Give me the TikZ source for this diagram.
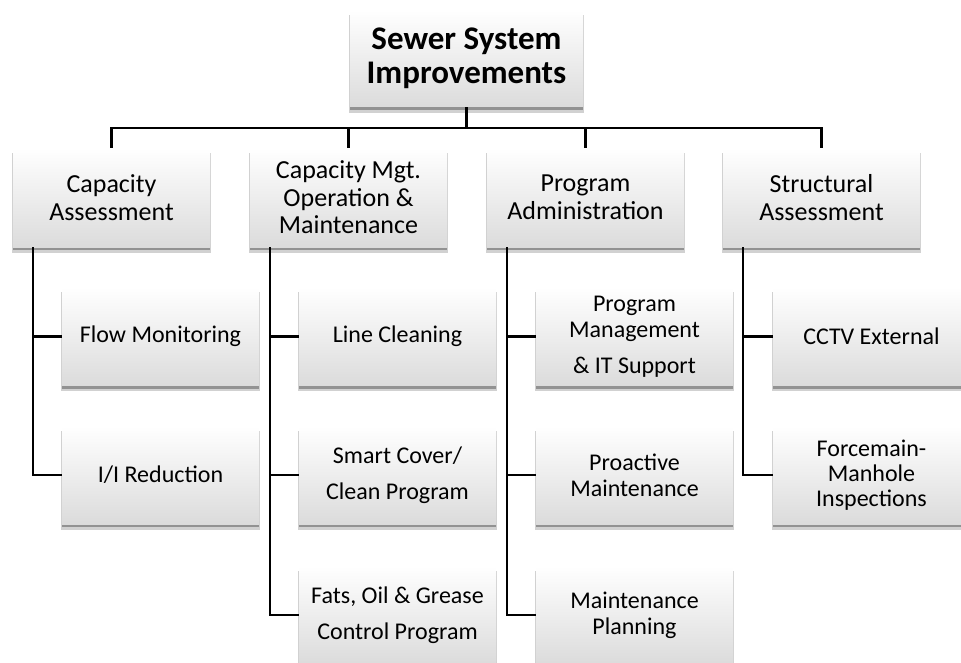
\documentclass[tikz,border=0pt]{standalone}
\usepackage{fontspec}
\setmainfont{Carlito}
\usetikzlibrary{shadows}
\begin{document}
\begin{tikzpicture}[x=1pt,y=-1pt,
  boxbase/.style={rectangle, inner sep=0pt, align=center, text=black,
    top color=white, middle color=white, bottom color=black!14,
    drop shadow={shadow xshift=0pt, shadow yshift=-5pt, opacity=0.18, fill=black, shadow scale=1.01},
    drop shadow={shadow xshift=0pt, shadow yshift=-3pt, opacity=0.3, fill=black}},
  rootbox/.style={boxbase, minimum width=233pt, minimum height=97pt, font=\fontsize{33}{34}\selectfont\bfseries},
  topbox/.style={boxbase, minimum width=197pt, minimum height=99pt, font=\fontsize{26}{27.5}\selectfont},
  leafbox/.style={boxbase, minimum width=197pt, minimum height=98pt, font=\fontsize{24}{26}\selectfont},
  conn/.style={line width=2.6pt, black}
]
\useasboundingbox (0,0) rectangle (961,663);

\node[rootbox] (root) at (466.5,58.5) {Sewer System\\Improvements};

\node[topbox] (ta) at (111.5,197.5) {Capacity\\Assessment};
\node[topbox] (tb) at (348.5,197.5) {Capacity Mgt.\\Operation \&\\Maintenance};
\node[topbox] (tc) at (585.5,197.5) {Program\\Administration};
\node[topbox] (td) at (821.5,197.5) {Structural\\Assessment};

\node[leafbox] (a1) at (160.5,336.5) {Flow Monitoring};
\node[leafbox] (a2) at (160.5,475) {I/I Reduction};

\node[leafbox] (b1) at (397.5,336.5) {Line Cleaning};
\node[leafbox] (b2) at (397.5,475) {Smart Cover/\\[10pt]Clean Program};
\node[leafbox] (b3) at (397.5,615) {Fats, Oil \& Grease\\[10pt]Control Program};

\node[leafbox] (c1) at (634.5,336.5) {Program\\Management\\[10pt]\& IT Support};
\node[leafbox] (c2) at (634.5,475) {Proactive\\Maintenance};
\node[leafbox] (c3) at (634.5,615) {Maintenance\\Planning};

\node[leafbox] (d1) at (871.5,336.5) {CCTV External};
\node[leafbox, font=\fontsize{24}{25}\selectfont] (d2) at (871.5,475) {Forcemain-\\Manhole\\Inspections};

\coordinate (bus) at (0,128);
\draw[conn] (root.south) -- (root.south |- bus);
\draw[conn, line join=miter] (ta.north) -- (ta.north |- bus) -- (td.north |- bus) -- (td.north);
\draw[conn] (tb.north) -- (tb.north |- bus);
\draw[conn] (tc.north) -- (tc.north |- bus);

\coordinate (sa) at ([xshift=20pt]ta.south west);
\coordinate (sb) at ([xshift=20pt]tb.south west);
\coordinate (sc) at ([xshift=20pt]tc.south west);
\coordinate (sd) at ([xshift=20pt]td.south west);

\draw[conn, line join=miter] (sa) |- (a2.west);
\draw[conn] (a1.west) -- (sa |- a1.west);

\draw[conn, line join=miter] (sb) |- (b3.west);
\draw[conn] (b1.west) -- (sb |- b1.west);
\draw[conn] (b2.west) -- (sb |- b2.west);

\draw[conn, line join=miter] (sc) |- (c3.west);
\draw[conn] (c1.west) -- (sc |- c1.west);
\draw[conn] (c2.west) -- (sc |- c2.west);

\draw[conn, line join=miter] (sd) |- (d2.west);
\draw[conn] (d1.west) -- (sd |- d1.west);
\end{tikzpicture}
\end{document}
